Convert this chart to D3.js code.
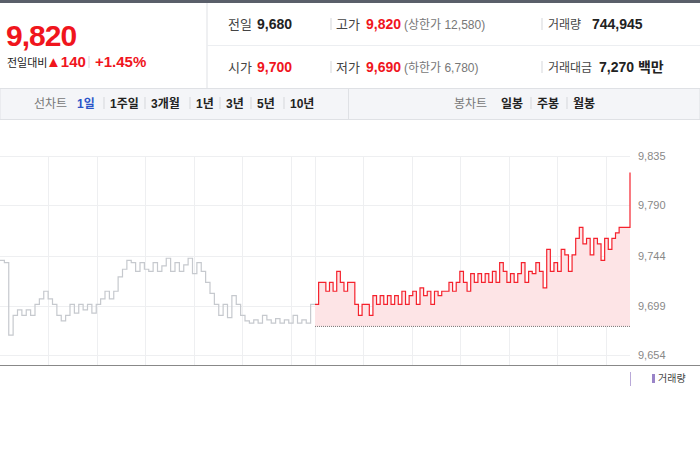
<!DOCTYPE html>
<html><head><meta charset="utf-8">
<script src="https://cdn.jsdelivr.net/npm/d3@7"></script>
<style>body{margin:0;background:#fff}svg{display:block;font-family:"Liberation Sans","Noto Sans CJK KR",sans-serif}</style>
</head><body><svg id="c" width="700" height="450"></svg>
<script>
// previous day (gray) and today (red) step prices
var prevPrices = [9740,9738,9672,9690,9695,9690,9695,9690,9700,9705,9712,9705,9700,9690,9685,9690,9700,9692,9700,9695,9700,9692,9700,9705,9712,9705,9712,9725,9732,9740,9738,9730,9738,9732,9730,9738,9730,9735,9742,9730,9738,9730,9736,9742,9728,9738,9730,9720,9710,9700,9690,9700,9688,9708,9700,9690,9685,9683,9686,9683,9690,9686,9683,9687,9683,9686,9683,9690,9683,9686,9683,9700,9700];
var todayPrices = [9700,9720,9720,9712,9720,9712,9730,9720,9712,9720,9720,9700,9690,9700,9700,9690,9708,9700,9708,9700,9708,9700,9708,9700,9712,9700,9708,9712,9700,9715,9708,9712,9700,9712,9708,9712,9712,9720,9712,9720,9730,9720,9712,9728,9720,9728,9720,9728,9720,9730,9720,9738,9730,9720,9728,9720,9728,9738,9720,9730,9728,9738,9730,9715,9750,9730,9738,9730,9750,9745,9730,9745,9760,9770,9755,9760,9745,9760,9755,9740,9760,9750,9760,9765,9770,9770,9770,9820];
var prevClose = 9680;
var yTicks = [9654,9699,9744,9790,9835];
var xGrid = [1,2,3,4,5,6,6.5,7.5,8.5,9.5,10.5,11.5,12.5];
var tabs = [["선차트",34],["1일",77],["1주일",110],["3개월",151],["1년",196],["3년",226],["5년",257],["10년",290]];
var candleTabs = [["봉차트",454],["일봉",501],["주봉",537],["월봉",573]];

var svg = d3.select("#c");
// header
svg.append("rect").attr("x",0).attr("y",0).attr("width",700).attr("height",3).attr("fill","#5a5f6a");
svg.append("line").attr("x1",207).attr("x2",207).attr("y1",3).attr("y2",88).attr("stroke","#dfe1e5");
svg.append("line").attr("x1",207).attr("x2",700).attr("y1",45.5).attr("y2",45.5).attr("stroke","#eceef1");
svg.append("rect").attr("x",0).attr("y",88.5).attr("width",700).attr("height",31).attr("fill","#f4f5f8").attr("stroke","#dfe1e5");
svg.append("line").attr("x1",348.5).attr("x2",348.5).attr("y1",89).attr("y2",119).attr("stroke","#dfe1e5");

function txt(x,y,s,o){o=o||{};var t=svg.append("text").attr("x",x).attr("y",y).text(s)
  .attr("font-size",o.size||13).attr("fill",o.fill||"#222").attr("font-weight",o.bold?"bold":null);
  if(o.anchor)t.attr("text-anchor",o.anchor);return t;}
function sep(x,y){svg.append("line").attr("x1",x).attr("x2",x).attr("y1",y-11).attr("y2",y+1).attr("stroke","#d5d7db");}
txt(6,46,"9,820",{size:30,bold:true,fill:"#f0151d"}).attr("letter-spacing",-1);
txt(7,67,"전일대비",{size:11,fill:"#222"});
txt(46,67,"▲140",{size:15,fill:"#f0151d",bold:true});
sep(89,67);
txt(95,67,"+1.45%",{size:15,fill:"#f0151d",bold:true});

txt(228,29,"전일",{fill:"#444"}); txt(257,29,"9,680",{bold:true,size:14});
sep(331,29); txt(336,29,"고가",{fill:"#444"}); txt(366,29,"9,820",{bold:true,size:14,fill:"#f0151d"});
txt(404,29,"(상한가 12,580)",{size:12,fill:"#777"});
sep(542,29); txt(548,29,"거래량",{size:12,fill:"#444"}); txt(592,29,"744,945",{bold:true,size:14});
txt(228,72,"시가",{fill:"#444"}); txt(257,72,"9,700",{bold:true,size:14,fill:"#f0151d"});
sep(331,72); txt(336,72,"저가",{fill:"#444"}); txt(366,72,"9,690",{bold:true,size:14,fill:"#f0151d"});
txt(404,72,"(하한가 6,780)",{size:12,fill:"#777"});
sep(542,72); txt(548,72,"거래대금",{size:12,fill:"#444"}); txt(599,72,"7,270 백만",{bold:true,size:14});

tabs.forEach(function(t,i){
  if(i>1) sep(t[1]-6,108);
  txt(t[1],108,t[0],{size:12,fill:i==0?"#777":(i==1?"#2b54c8":"#222"),bold:i>0});
});
candleTabs.forEach(function(t,i){
  if(i>1) sep(t[1]-6,108);
  txt(t[1],108,t[0],{size:12,fill:i==0?"#777":"#222",bold:i>0});
});

// chart
var x = d3.scaleLinear().domain([0,13]).range([0,630]);
var y = d3.scaleLinear().domain([9654,9835]).range([355,156]);
var g = svg.append("g");
g.selectAll(".hg").data(yTicks).enter().append("line")
  .attr("x1",0).attr("x2",630).attr("y1",function(d){return Math.round(y(d))+0.5;}).attr("y2",function(d){return Math.round(y(d))+0.5;})
  .attr("stroke","#eeeff1");
g.selectAll(".vg").data(xGrid).enter().append("line")
  .attr("x1",function(d){return Math.round(x(d))+0.5;}).attr("x2",function(d){return Math.round(x(d))+0.5;})
  .attr("y1",156).attr("y2",365).attr("stroke","#eeeff1");
g.selectAll(".yl").data(yTicks).enter().append("text")
  .attr("x",638).attr("y",function(d){return y(d)+4;}).attr("font-size",11).attr("fill","#888")
  .text(d3.format(","));

var xp = d3.scaleLinear().domain([0,prevPrices.length-1]).range([x(0),x(6.5)]);
var xt = d3.scaleLinear().domain([0,todayPrices.length-1]).range([x(6.5),x(13)]);
var area = d3.area().curve(d3.curveStepAfter).x(function(d,i){return xt(i);}).y0(y(prevClose)).y1(function(d){return y(d);});
g.append("path").datum(todayPrices).attr("d",area).attr("fill","#fde4e6");
g.append("line").attr("x1",x(6.5)).attr("x2",x(13)).attr("y1",y(prevClose)).attr("y2",y(prevClose))
  .attr("stroke","#777").attr("stroke-dasharray","1,1");
g.append("path").datum(prevPrices)
  .attr("d",d3.line().curve(d3.curveStepAfter).x(function(d,i){return xp(i);}).y(function(d){return y(d);}))
  .attr("fill","none").attr("stroke","#c6c9ce").attr("stroke-width",1.2);
g.append("path").datum(todayPrices)
  .attr("d",d3.line().curve(d3.curveStepAfter).x(function(d,i){return xt(i);}).y(function(d){return y(d);}))
  .attr("fill","none").attr("stroke","#f5222d").attr("stroke-width",1.2);
svg.append("line").attr("x1",0).attr("x2",700).attr("y1",365.5).attr("y2",365.5).attr("stroke","#888");
svg.append("line").attr("x1",630.5).attr("x2",630.5).attr("y1",372).attr("y2",386).attr("stroke","#b9a9d8");
svg.append("rect").attr("x",652).attr("y",374).attr("width",3).attr("height",9).attr("fill","#9a84c8");
txt(658,382,"거래량",{size:10,fill:"#444"});
</script></body></html>
